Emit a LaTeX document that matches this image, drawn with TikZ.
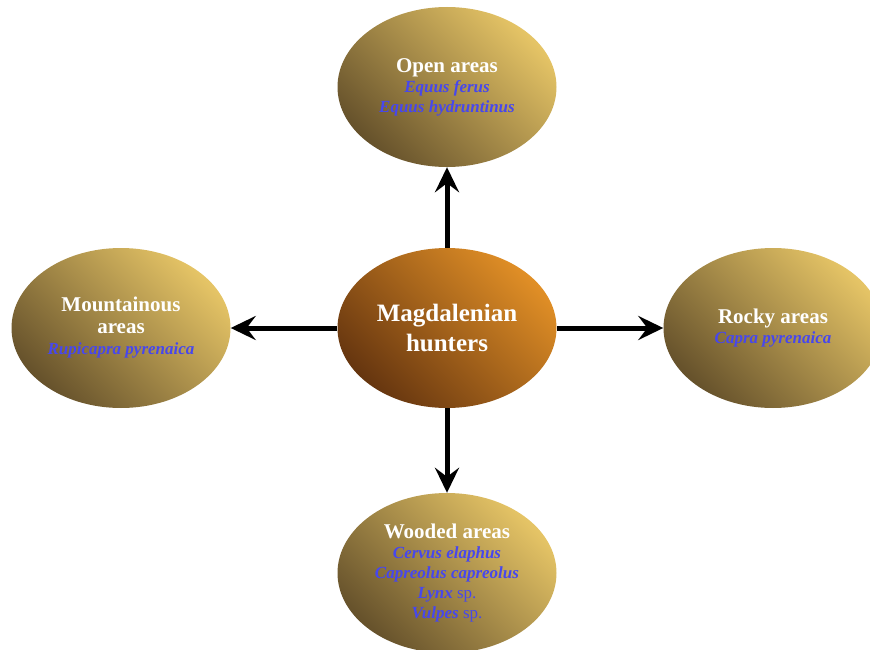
\documentclass[tikz,border=0pt]{standalone}
\usepackage{fontspec}
\setmainfont{Liberation Serif}
\usetikzlibrary{shapes.geometric,arrows.meta}
\definecolor{ggddkk}{rgb}{0.90,0.77,0.40}
\definecolor{kkggdd}{rgb}{0.40,0.32,0.17}
\definecolor{ggoorr}{rgb}{0.88,0.56,0.15}
\definecolor{rrggoo}{rgb}{0.40,0.21,0.06}
\definecolor{qqqqff}{rgb}{0.28,0.28,0.93}
\newcommand{\taxon}[1]{{\color{qqqqff}\itshape #1}}
\newcommand{\spp}{{\color{qqqqff}\mdseries sp.}}

\begin{document}
\begin{tikzpicture}[x=1pt,y=-1pt,line cap=round,line join=round]
\useasboundingbox (0,0) rectangle (870,650);
\tikzset{area/.style={ellipse,minimum width=219pt,minimum height=160pt,inner sep=0pt,
    top color=ggddkk,bottom color=kkggdd,shading angle=-45,
    align=center,text=white,font=\fontsize{17pt}{20pt}\selectfont\bfseries},
  hub/.style={area,top color=ggoorr,bottom color=rrggoo,shading angle=-45,
    font=\fontsize{25pt}{30pt}\selectfont\bfseries},
  link/.style={-{Stealth[length=25pt,width=24pt,inset=9pt]},line width=5pt,line cap=butt}}
% centre
\node[hub] (hunters) at (447,328) {Magdalenian\\hunters};
% habitats
\node[area] (open) at (447,87) {{\fontsize{21pt}{20pt}\selectfont Open areas}\\
  \taxon{Equus ferus}\\\taxon{Equus hydruntinus}};
\node[area] (mount) at (121,328) {{\fontsize{21pt}{23pt}\selectfont Mountainous}\\[2pt]
  {\fontsize{21pt}{23pt}\selectfont areas}\\[1pt]\taxon{Rupicapra pyrenaica}};
\node[area] (rocky) at (773,328) {{\fontsize{21pt}{21pt}\selectfont Rocky areas}\\
  \taxon{Capra pyrenaica}};
\node[area] (wood) at (447,573) {{\fontsize{21pt}{20pt}\selectfont Wooded areas}\\
  \taxon{Cervus elaphus}\\\taxon{Capreolus capreolus}\\\taxon{Lynx} \spp\\\taxon{Vulpes} \spp};
% arrows
\draw[link] (hunters) -- (open);
\draw[link] (hunters) -- (mount);
\draw[link] (hunters) -- (rocky);
\draw[link] (hunters) -- (wood);
\end{tikzpicture}
\end{document}
